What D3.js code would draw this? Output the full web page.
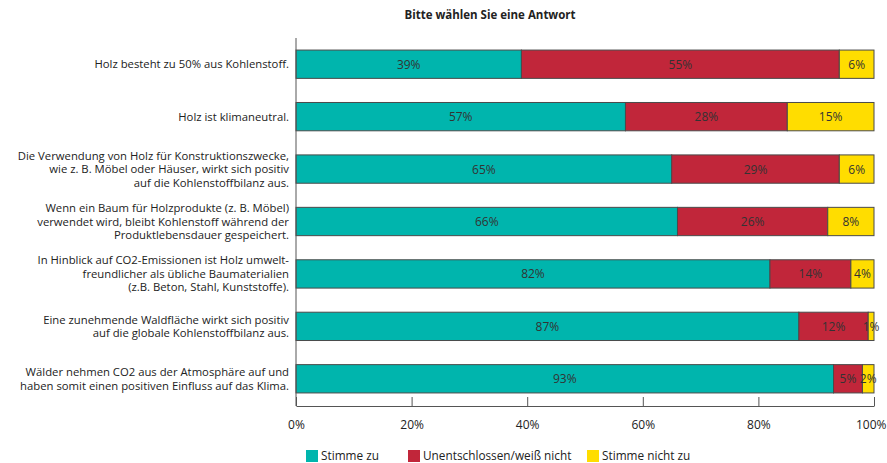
<!DOCTYPE html>
<html>
<head>
<meta charset="utf-8">
<script src="https://cdn.jsdelivr.net/npm/d3@7"></script>
<style>
  body { margin: 0; background: #fff; }
  text { font-family: "Open Sans", sans-serif; fill: #222; }
</style>
</head>
<body>
<div id="chart"></div>
<script>
const statements = [
  ["Holz besteht zu 50% aus Kohlenstoff."],
  ["Holz ist klimaneutral."],
  ["Die Verwendung von Holz für Konstruktionszwecke,", "wie z. B. Möbel oder Häuser, wirkt sich positiv", "auf die Kohlenstoffbilanz aus."],
  ["Wenn ein Baum für Holzprodukte (z. B. Möbel)", "verwendet wird, bleibt Kohlenstoff während der", "Produktlebensdauer gespeichert."],
  ["In Hinblick auf CO2-Emissionen ist Holz umwelt-", "freundlicher als übliche Baumaterialien", "(z.B. Beton, Stahl, Kunststoffe)."],
  ["Eine zunehmende Waldfläche wirkt sich positiv", "auf die globale Kohlenstoffbilanz aus."],
  ["Wälder nehmen CO2 aus der Atmosphäre auf und", "haben somit einen positiven Einfluss auf das Klima."]
];
const agree = [39, 57, 65, 66, 82, 87, 93];
const undecided = [55, 28, 29, 26, 14, 12, 5];
const disagree = [6, 15, 6, 8, 4, 1, 2];
const seriesNames = ["Stimme zu", "Unentschlossen/weiß nicht", "Stimme nicht zu"];
const seriesColors = ["#00b5ad", "#c1263a", "#ffdd00"];
const xTicks = [0, 20, 40, 60, 80, 100];

const W = 887, H = 463;
const plotL = 296, plotR = 874, plotT = 38, plotB = 405;

const svg = d3.select("#chart").append("svg")
  .attr("width", W).attr("height", H);

svg.append("text")
  .attr("x", 490).attr("y", 19)
  .attr("text-anchor", "middle")
  .style("font-weight", "bold")
  .style("font-size", "11.5px")
  .text("Bitte wählen Sie eine Antwort");

const x = d3.scaleLinear().domain([0, 100]).range([plotL, plotR]);
const y = d3.scaleBand().domain(d3.range(statements.length)).range([plotT, plotB]).paddingInner(0.46).paddingOuter(0.23);

const rows = statements.map((s, i) => {
  const vals = [agree[i], undecided[i], disagree[i]];
  let acc = 0;
  return vals.map((v, k) => {
    const seg = { i, k, x0: acc, x1: acc + v, v };
    acc += v;
    return seg;
  });
}).flat();

svg.selectAll("rect.seg").data(rows).enter().append("rect")
  .attr("class", "seg")
  .attr("x", d => x(d.x0))
  .attr("width", d => x(d.x1) - x(d.x0))
  .attr("y", d => y(d.i))
  .attr("height", y.bandwidth())
  .attr("fill", d => seriesColors[d.k])
  .attr("stroke", "#4a4a4a")
  .attr("stroke-width", 1);

svg.selectAll("text.val").data(rows).enter().append("text")
  .attr("class", "val")
  .attr("x", d => (x(d.x0) + x(d.x1)) / 2)
  .attr("y", d => y(d.i) + y.bandwidth() / 2 + 4.5)
  .attr("text-anchor", "middle")
  .style("font-size", "12px")
  .style("fill", "#333")
  .text(d => d.v + "%");

// category labels
statements.forEach((lines, i) => {
  const cy = y(i) + y.bandwidth() / 2;
  const lh = 13.5;
  const t = svg.append("text")
    .attr("text-anchor", "end")
    .style("font-size", "11.3px");
  lines.forEach((ln, j) => {
    t.append("tspan")
      .attr("x", 289)
      .attr("y", cy + 4 + (j - (lines.length - 1) / 2) * lh)
      .text(ln);
  });
});

// axes
svg.append("line")
  .attr("x1", plotL).attr("x2", plotL)
  .attr("y1", plotT).attr("y2", plotB + 1)
  .attr("stroke", "#555");

const xAxis = svg.append("g")
  .attr("transform", `translate(0,${plotB + 1})`)
  .call(d3.axisBottom(x).tickValues(xTicks).tickSize(-9).tickSizeOuter(0).tickFormat(d => d + "%"));
xAxis.select(".domain").attr("stroke", "#555");
xAxis.selectAll(".tick line").attr("stroke", "#555");
xAxis.selectAll(".tick text")
  .attr("y", 14)
  .style("font-size", "12px")
  .style("font-family", "Open Sans, sans-serif")
  .attr("fill", "#222");
// keep the last tick label inside the window
xAxis.selectAll(".tick text").filter(d => d === 100)
  .attr("text-anchor", "end")
  .attr("x", 12);

// legend
const legendX = [306, 408, 587];
seriesNames.forEach((n, k) => {
  svg.append("rect")
    .attr("x", legendX[k]).attr("y", 450)
    .attr("width", 12).attr("height", 12)
    .attr("fill", seriesColors[k]);
  svg.append("text")
    .attr("x", legendX[k] + 15).attr("y", 460)
    .style("font-size", "11.8px")
    .text(n);
});
</script>
</body>
</html>
